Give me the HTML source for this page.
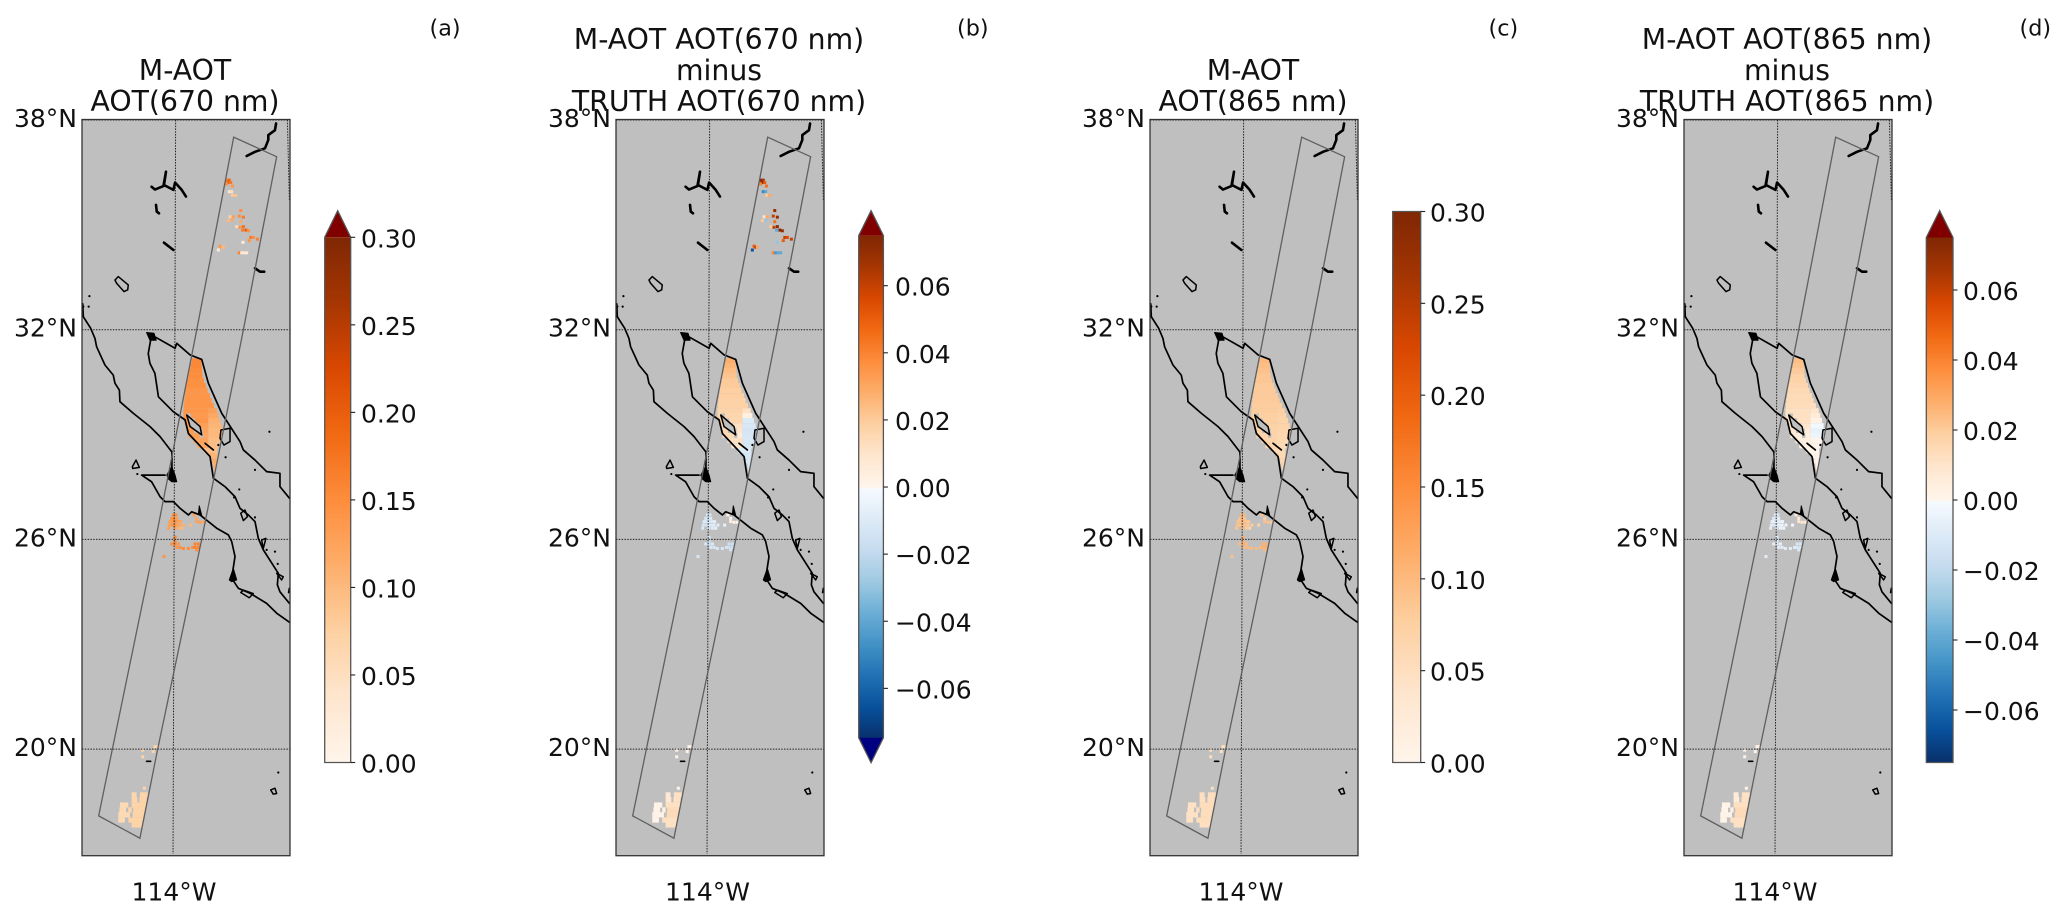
<!DOCTYPE html>
<html lang="en">
<head>
<meta charset="utf-8">
<title>M-AOT retrieval maps</title>
<style>
html,body{margin:0;padding:0;background:#fff;width:2067px;height:919px;overflow:hidden}
svg{display:block;filter:blur(.35px)}
text{font-family:"DejaVu Sans","Liberation Sans",sans-serif;fill:#111}
</style>
</head>
<body>
<svg id="figure" xmlns="http://www.w3.org/2000/svg" width="2067" height="919" viewBox="0 0 2067 919"></svg>
<script>
// ---- axis ticks ----
const latTicks=[38,32,26,20];
const lonTickLabel='114°W';
const panelLetters=['(a)','(b)','(c)','(d)'];
const panelTitles=[['M-AOT','AOT(670 nm)'],['M-AOT AOT(670 nm)','minus','TRUTH AOT(670 nm)'],['M-AOT','AOT(865 nm)'],['M-AOT AOT(865 nm)','minus','TRUTH AOT(865 nm)']];
const aotTicks=[0,0.05,0.10,0.15,0.20,0.25,0.30];
const diffTicks=[-0.06,-0.04,-0.02,0,0.02,0.04,0.06];
// ---- colormap stops ----
const orangesStops=['#fff5eb','#fee6ce','#fdd0a2','#fdae6b','#fd8d3c','#f16913','#d94801','#a63603','#7f2704'];
const bluesStops=['#f7fbff','#deebf7','#c6dbef','#9ecae1','#6baed6','#4292c6','#2171b5','#08519c','#08306b'];
// ---- swath outline (lon, lat) ----
const swathLon=[-110.79,-112.79,-115.01,-117.35,-118.09,-115.86,-114.90,-112.52,-110.27,-108.47];
const swathLat=[37.51,31.99,26.00,20.00,18.09,17.45,20.00,26.00,31.99,36.95];
// ---- coastlines (lon, lat) ----
const coastLines=[
[[-118.95,32.74],[-118.92,32.37],[-118.52,32.04],[-118.29,31.75],[-118.20,31.51],[-117.75,30.99],[-117.30,30.70],[-117.21,30.47],[-116.97,30.27],[-116.94,29.94],[-116.22,29.61],[-115.32,29.23],[-114.77,28.94],[-114.13,28.50],[-114.13,27.99]],
[[-114.50,27.84],[-115.77,27.84],[-115.23,27.65],[-114.77,27.22],[-114.50,27.08],[-114.05,27.08],[-113.69,26.89],[-113.24,26.70],[-113.06,26.79],[-112.61,26.70],[-112.16,26.51],[-111.71,26.32],[-111.08,26.13],[-110.90,25.94],[-110.72,25.51],[-110.90,24.89],[-110.54,24.60],[-109.91,24.46],[-109.01,24.17],[-108.47,23.89],[-107.78,23.63]],
[[-115.23,31.85],[-115.41,31.32],[-115.32,31.04],[-115.05,30.75],[-114.86,30.08],[-114.05,29.65],[-113.42,29.42],[-113.24,29.03],[-112.07,28.37],[-111.89,27.75],[-111.26,27.51],[-110.72,27.22],[-110.45,26.89],[-110.00,26.70],[-109.64,26.51],[-109.46,26.03],[-109.19,25.70],[-108.38,25.03],[-108.43,24.70],[-108.29,24.50],[-107.78,24.17]],
[[-115.23,31.85],[-113.96,31.47],[-113.87,31.61],[-113.15,31.28],[-112.52,31.15],[-112.16,30.47],[-111.44,29.61],[-110.45,28.80],[-110.27,28.56],[-109.64,28.27],[-109.01,27.94],[-108.29,27.89],[-108.29,27.51],[-107.78,27.18]],
[[-112.34,28.75],[-111.89,28.56]],
[[-115.50,19.65],[-115.28,19.65]],
[[-107.78,24.60],[-107.82,24.48]]
];
const riverLines=[
[[-110.09,36.97],[-109.64,37.09],[-109.10,37.19],[-108.92,37.43],[-108.92,37.57],[-108.56,37.71],[-108.50,37.90]],
[[-115.23,36.09],[-115.05,36.01],[-114.59,36.11],[-114.45,36.52],[-114.56,36.14],[-114.05,36.00],[-113.96,36.21],[-113.60,36.00],[-113.37,35.81]],
[[-114.99,35.57],[-114.95,35.38],[-114.83,35.33]],
[[-114.56,34.49],[-114.05,34.28]],
[[-109.64,33.76],[-109.37,33.66],[-109.14,33.66]]
];
const coastLoops=[
[[-113.33,29.56],[-112.61,29.23],[-112.52,28.99],[-113.15,29.23]],
[[-111.48,29.13],[-110.99,29.18],[-110.99,28.80],[-111.32,28.70],[-111.53,28.89]],
[[-117.21,33.42],[-117.03,33.52],[-116.49,33.28],[-116.52,33.14],[-116.72,33.09],[-117.12,33.33]],
[[-116.27,28.08],[-116.07,28.27],[-115.89,28.06],[-116.25,28.03]],
[[-110.41,26.75],[-110.18,26.84],[-110.05,26.65],[-110.27,26.54]],
[[-109.28,25.98],[-109.05,26.03],[-109.19,25.74]],
[[-108.47,25.03],[-108.11,24.93],[-108.20,24.84]],
[[-110.27,24.55],[-109.73,24.45],[-109.95,24.33],[-110.41,24.48]],
[[-108.79,18.83],[-108.56,18.88],[-108.47,18.73],[-108.65,18.71]]
];
const coastBlobs=[
[[-114.41,27.84],[-114.14,28.08],[-113.96,27.84],[-113.87,27.65],[-114.14,27.65],[-114.32,27.73]],
[[-112.70,26.73],[-112.65,26.96],[-112.51,26.67]],
[[-111.03,24.84],[-110.81,25.17],[-110.63,24.84],[-110.90,24.79]],
[[-115.50,31.92],[-115.10,31.90],[-114.98,31.70],[-115.32,31.70]]
];
const islandDotLon=[-118.59,-118.63,-118.92,-108.86,-111.23,-111.62,-116.00,-110.49,-109.64,-110.77,-109.64,-109.01,-108.56,-108.41,-108.38];
const islandDotLat=[32.96,32.66,32.66,29.08,28.35,28.70,27.87,27.43,27.99,27.20,26.63,25.70,25.65,25.30,19.33];
// ---- retrieved AOT pixels: contiguous runs (gulf + southern patch) ----
const rowLat=[31.11,30.97,30.83,30.68,30.54,30.40,30.26,30.11,29.97,29.83,29.68,29.68,29.54,29.54,29.54,29.40,29.40,29.40,29.25,29.25,29.25,29.11,29.11,29.11,28.97,28.97,28.97,28.83,28.83,28.68,28.68,28.54,28.40,28.25,28.11,27.97,18.69,18.69,18.55,18.55,18.40,18.40,18.26,18.26,18.26,18.12,18.12,17.97,17.97,17.83];
const rowLonW=[-113.06,-113.12,-113.19,-113.24,-113.30,-113.35,-113.39,-113.42,-113.46,-113.49,-113.51,-112.16,-113.51,-113.10,-112.16,-113.46,-112.88,-112.16,-113.37,-112.65,-112.16,-113.30,-112.47,-112.16,-113.24,-112.43,-112.16,-112.97,-112.16,-112.76,-112.16,-112.40,-112.11,-111.96,-111.89,-111.84,-116.31,-115.86,-116.31,-115.89,-116.94,-116.31,-116.97,-116.49,-116.22,-117.03,-116.25,-117.03,-116.49,-116.31];
const rowLonE=[-112.56,-112.52,-112.50,-112.47,-112.40,-112.29,-112.20,-112.07,-111.98,-111.86,-112.16,-111.71,-113.30,-112.16,-111.62,-113.24,-112.16,-111.53,-113.19,-112.16,-111.44,-112.94,-112.16,-111.35,-112.61,-112.16,-111.44,-112.16,-111.53,-112.16,-111.62,-111.68,-111.68,-111.71,-111.75,-111.78,-116.04,-115.44,-116.00,-115.50,-116.49,-115.53,-116.61,-116.31,-115.59,-116.40,-115.64,-116.67,-115.68,-115.71];
const rowAot670=[.155,.155,.15,.15,.145,.145,.14,.14,.14,.14,.14,.13,.14,.135,.12,.14,.14,.11,.135,.13,.105,.135,.125,.10,.13,.12,.10,.125,.095,.12,.095,.095,.105,.115,.115,.115,.065,.07,.065,.07,.06,.07,.06,.065,.07,.06,.07,.06,.07,.07];
const rowDiff670=[.028,.026,.024,.022,.02,.02,.019,.019,.018,.018,.017,.012,.017,.016,.003,.018,.016,-.01,.016,.012,-.012,.016,.01,-.013,.015,.006,-.012,.012,-.012,.01,-.012,-.01,-.012,-.012,-.012,-.01,.008,.012,.008,.012,.001,.012,.001,.002,.014,.001,.014,.001,.012,.012];
const rowAot865=[.10,.095,.09,.085,.085,.08,.08,.08,.08,.078,.078,.075,.075,.075,.072,.075,.075,.07,.075,.072,.068,.072,.07,.065,.07,.068,.063,.068,.062,.065,.06,.06,.062,.065,.065,.065,.05,.052,.05,.052,.045,.052,.045,.05,.052,.045,.052,.045,.052,.05];
const rowDiff865=[.024,.022,.02,.018,.017,.016,.015,.014,.014,.013,.012,.01,.012,.012,.006,.012,.012,.002,.012,.01,-.002,.008,.006,-.006,.005,.004,-.004,.003,.0005,.001,.0005,.0005,.0005,.0005,.001,.001,.006,.012,.006,.012,.001,.012,.0005,.003,.014,.001,.014,.001,.012,.012];
// ---- isolated pixels, northern clusters (670 nm only) ----
const northLon=[-111.17,-111.03,-111.10,-110.95,-111.17,-110.86,-111.03,-110.90,-110.86,-110.68,-110.41,-110.81,-110.99,-110.49,-110.27,-111.08,-110.90,-110.41,-110.63,-110.45,-110.27,-110.31,-110.13,-110.00,-109.87,-109.95,-109.73,-109.51,-110.29,-111.53,-111.44,-111.62,-111.35,-110.49,-110.36,-110.22,-110.09];
const northLat=[36.28,36.28,36.21,36.21,36.17,36.11,35.95,35.95,35.85,35.84,35.41,35.23,35.23,35.25,35.22,35.12,35.14,35.09,34.95,34.93,34.95,34.85,34.85,34.83,34.64,34.55,34.64,34.59,34.50,34.39,34.36,34.28,34.36,34.20,34.20,34.20,34.20];
const northAot670=[.17,.19,.20,.17,.15,.14,.04,.05,.08,.09,.15,.13,.07,.15,.17,.10,.12,.12,.06,.14,.18,.17,.20,.15,.17,.14,.15,.16,.02,.14,.12,.03,.10,.16,.03,.03,.03];
const northDiff670=[.072,.065,.075,.05,.04,.045,-.05,-.04,.02,.03,.07,.03,.01,.06,.07,.02,-.03,.045,.02,.06,.072,-.04,.075,.07,.06,.05,.055,.06,-.03,.05,.06,-.065,.03,.04,-.045,-.04,-.04];
// ---- isolated pixels, 26N and 20N clusters (all bands) ----
const southLon=[-114.05,-113.91,-114.14,-114.02,-113.87,-114.23,-114.09,-113.95,-113.80,-113.66,-114.27,-114.13,-113.98,-113.84,-113.69,-113.48,-113.12,-114.31,-113.98,-113.78,-113.60,-112.94,-112.79,-112.79,-112.61,-112.43,-113.96,-113.96,-114.14,-113.96,-113.78,-113.87,-113.69,-113.51,-113.24,-113.01,-112.88,-112.70,-112.88,-112.70,-112.79,-114.56,-115.05,-114.92,-115.14,-115.71,-115.71,-115.62];
const southLat=[26.70,26.70,26.60,26.60,26.60,26.51,26.51,26.51,26.51,26.51,26.41,26.41,26.41,26.41,26.41,26.41,26.41,26.32,26.32,26.32,26.32,26.70,26.60,26.51,26.49,26.49,26.06,25.96,25.87,25.87,25.87,25.77,25.77,25.74,25.74,25.77,25.87,25.87,25.77,25.77,25.70,25.51,20.07,20.07,19.93,19.97,19.78,18.88];
const southAot670=[.15,.15,.14,.15,.13,.13,.14,.15,.13,.12,.13,.14,.15,.13,.12,.11,.10,.13,.13,.11,.10,.13,.12,.13,.13,.12,.16,.16,.15,.16,.14,.14,.15,.15,.15,.15,.16,.16,.16,.16,.15,.14,.07,.07,.07,.07,.07,.07];
const southDiff670=[-.012,-.014,-.012,-.014,-.01,-.01,-.012,-.014,-.01,-.008,-.012,-.014,-.012,-.01,-.008,-.008,-.006,-.012,-.01,-.008,-.006,.002,.001,.003,.002,.001,-.014,-.014,-.012,-.014,-.01,-.012,-.012,-.012,-.012,-.012,-.016,-.016,-.016,-.016,-.014,-.012,.001,.001,.001,.001,.001,.001];
const southAot865=[.10,.10,.09,.10,.09,.09,.09,.10,.09,.08,.09,.09,.10,.09,.08,.08,.07,.09,.09,.08,.07,.09,.08,.09,.09,.08,.11,.11,.10,.11,.10,.10,.10,.10,.10,.10,.11,.11,.11,.11,.10,.09,.05,.05,.05,.05,.05,.05];
const southDiff865=[-.008,-.01,-.008,-.01,-.006,-.006,-.008,-.01,-.006,-.005,-.008,-.01,-.008,-.006,-.004,-.004,-.003,-.008,-.006,-.004,-.003,.008,.006,.01,.008,.006,-.01,-.01,-.008,-.01,-.006,-.008,-.008,-.008,-.008,-.008,-.012,-.012,-.012,-.012,-.01,-.008,.001,.001,.001,.001,.001,.001];

const SVGNS='http://www.w3.org/2000/svg';
const svg=document.getElementById('figure');
// Layout
const panelLeft=[82,616,1150,1684];
const panelW=208, panelTop=119.5, panelBottom=855.7;
const letterX=[429.5,957,1488.5,2019.5];
const titleCx=[185,719,1253,1787];
const lonLabelX=[174,707.5,1241,1775];
const northSeries=[northAot670,northDiff670,null,null];
const southSeries=[southAot670,southDiff670,southAot865,southDiff865];
const rowSeries=[rowAot670,rowDiff670,rowAot865,rowDiff865];
const kinds=['aot','diff','aot','diff'];
const barGeom=[
 {x:324.7,w:26,top:237.3,bottom:762.5,over:210.7,under:null,labelX:361,vMin:0,vMax:.3,ticks:aotTicks,fmt:2},
 {x:858.7,w:24.7,top:235.7,bottom:737.7,over:210.7,under:762.7,labelX:895,vMin:-.0747,vMax:.0749,ticks:diffTicks,fmt:2},
 {x:1392.7,w:28,top:211.5,bottom:762.5,over:null,under:null,labelX:1430,vMin:0,vMax:.3,ticks:aotTicks,fmt:2},
 {x:1926.3,w:26.7,top:237.5,bottom:762.5,over:210.7,under:null,labelX:1963,vMin:-.075,vMax:.075,ticks:diffTicks,fmt:2}
];

function make(tag,attrs,parent,txt){
  const el=document.createElementNS(SVGNS,tag);
  for(const k in attrs) el.setAttribute(k,attrs[k]);
  if(txt!==undefined) el.textContent=txt;
  (parent||svg).appendChild(el);
  return el;
}
function hex2rgb(h){return [parseInt(h.substr(1,2),16),parseInt(h.substr(3,2),16),parseInt(h.substr(5,2),16)];}
function ramp(stops,t){
  t=Math.max(0,Math.min(1,t));
  const f=t*(stops.length-1), i=Math.min(stops.length-2,Math.floor(f)), u=f-i;
  const a=hex2rgb(stops[i]), b=hex2rgb(stops[i+1]);
  return 'rgb('+a.map(function(c,j){return Math.round(c+(b[j]-c)*u);}).join(',')+')';
}
function colorOf(kind,v){
  if(kind==='aot'){ return v>0.3?'#800000':ramp(orangesStops,v/0.3); }
  if(v>0.075) return '#800000';
  if(v<-0.075) return '#000080';
  return v>=0?ramp(orangesStops,v/0.075):ramp(bluesStops,-v/0.075);
}
function xAt(p,lon){return panelLeft[p]+92.33+(lon+114)*18.5;}
function yAt(lat){return 120+(38-lat)*34.95;}
function pathOf(p,pts,close){
  return pts.map(function(q,i){return (i?'L':'M')+xAt(p,q[0]).toFixed(2)+' '+yAt(q[1]).toFixed(2);}).join('')+(close?'Z':'');
}

// Panels
panelLeft.forEach(function(px,p){
  const g=make('g',{});
  
  

  const clip=make('clipPath',{id:'clip'+p},g);
  make('rect',{x:px,y:panelTop,width:panelW,height:panelBottom-panelTop},clip);

  const bg=make('rect',{x:px,y:panelTop,width:panelW,height:panelBottom-panelTop,fill:'#bfbfbf'},g);
  
  

  const inner=make('g',{'clip-path':'url(#clip'+p+')'},g);
  
  

  // pixel runs
  rowLat.forEach(function(lat,i){
    const x0=xAt(p,rowLonW[i]), x1=xAt(p,rowLonE[i]);
    const r=make('rect',{x:x0.toFixed(2),y:(yAt(lat)-2.6).toFixed(2),width:(x1-x0).toFixed(2),height:5.2,fill:colorOf(kinds[p],rowSeries[p][i])},inner);
    
    
  });
  // isolated pixels
  if(northSeries[p]){
    northLon.forEach(function(lon,i){
      const r=make('rect',{x:(xAt(p,lon)-1.5).toFixed(2),y:(yAt(northLat[i])-1.5).toFixed(2),width:3,height:3,fill:colorOf(kinds[p],northSeries[p][i])},inner);
      
      
    });
  }
  southLon.forEach(function(lon,i){
    const r=make('rect',{x:(xAt(p,lon)-1.5).toFixed(2),y:(yAt(southLat[i])-1.5).toFixed(2),width:3,height:3,fill:colorOf(kinds[p],southSeries[p][i])},inner);
    
    
  });

  // graticule
  latTicks.forEach(function(lat){
    const l=make('line',{x1:px,x2:px+panelW,y1:yAt(lat),y2:yAt(lat),stroke:'#222','stroke-width':1,'stroke-dasharray':'1.5 1.3'},inner);
    
    
  });
  const m1=make('line',{x1:xAt(p,-113.93),y1:yAt(38),x2:xAt(p,-114.07),y2:yAt(17),stroke:'#222','stroke-width':1,'stroke-dasharray':'1.5 1.3'},inner);
  
  
  const m2=make('line',{x1:xAt(p,-107.89),y1:yAt(38),x2:xAt(p,-107.78),y2:yAt(35.7),stroke:'#222','stroke-width':1,'stroke-dasharray':'1.5 1.3'},inner);
  
  

  // coastlines
  coastLines.forEach(function(pts){
    const c=make('path',{d:pathOf(p,pts,false),fill:'none',stroke:'#000','stroke-width':1.7,'stroke-linejoin':'round','stroke-linecap':'round'},inner);
    
    
  });
  riverLines.forEach(function(pts){
    const c=make('path',{d:pathOf(p,pts,false),fill:'none',stroke:'#000','stroke-width':2.6,'stroke-linejoin':'round','stroke-linecap':'round'},inner);
    
    
  });
  coastLoops.forEach(function(pts){
    const c=make('path',{d:pathOf(p,pts,true),fill:'none',stroke:'#000','stroke-width':1.5,'stroke-linejoin':'round'},inner);
    
    
  });
  coastBlobs.forEach(function(pts){
    const c=make('path',{d:pathOf(p,pts,true),fill:'#000',stroke:'#000','stroke-width':1,'stroke-linejoin':'round'},inner);
    
    
  });
  islandDotLon.forEach(function(lon,i){
    const c=make('circle',{cx:xAt(p,lon),cy:yAt(islandDotLat[i]),r:1.1,fill:'#000'},inner);
    
    
  });

  // swath
  const swathPts=swathLon.map(function(lon,i){return [lon,swathLat[i]];});
  const sw=make('path',{d:pathOf(p,swathPts,true),fill:'none',stroke:'#5f5f5f','stroke-width':1.3,'stroke-linejoin':'miter'},inner);
  
  

  // frame
  const fr=make('rect',{x:px,y:panelTop,width:panelW,height:panelBottom-panelTop,fill:'none',stroke:'#333','stroke-width':1.3},g);
  
  

  // lat labels
  latTicks.forEach(function(lat){
    const t=make('text',{x:px-5,y:yAt(lat)+7,'text-anchor':'end','font-size':25},g,lat+'°N');
    
    
  });
  const lt=make('text',{x:lonLabelX[p],y:900.7,'text-anchor':'middle','font-size':25},g,lonTickLabel);
  
  

  // titles
  const lines=panelTitles[p];
  lines.forEach(function(line,i){
    const base=111-(lines.length-1-i)*31;
    const t=make('text',{x:titleCx[p],y:base,'text-anchor':'middle','font-size':28.3},g,line);
    
    
  });
  const let1=make('text',{x:letterX[p],y:35.5,'font-size':22.3},g,panelLetters[p]);
  
  

  // colorbar
  const b=barGeom[p];
  const cb=make('g',{},g);
  
  
  const vY=function(v){return b.bottom-(v-b.vMin)/(b.vMax-b.vMin)*(b.bottom-b.top);};
  const steps=Math.round((b.bottom-b.top)/2);
  for(let s=0;s<steps;s++){
    const y0=b.top+(b.bottom-b.top)*s/steps;
    const v=b.vMax-(b.vMax-b.vMin)*(s+.5)/steps;
    const band=make('rect',{x:b.x,y:y0.toFixed(2),width:b.w,height:((b.bottom-b.top)/steps+.4).toFixed(2),fill:colorOf(kinds[p],v)},cb);
    
    
  }
  let outline='M'+b.x+' '+b.top;
  if(b.over!==null) outline+='L'+(b.x+b.w/2)+' '+b.over;
  outline+='L'+(b.x+b.w)+' '+b.top+'L'+(b.x+b.w)+' '+b.bottom;
  if(b.under!==null) outline+='L'+(b.x+b.w/2)+' '+b.under;
  outline+='L'+b.x+' '+b.bottom+'Z';
  if(b.over!==null){
    const tri=make('path',{d:'M'+b.x+' '+b.top+'L'+(b.x+b.w/2)+' '+b.over+'L'+(b.x+b.w)+' '+b.top+'Z',fill:'#800000'},cb);
    
    
  }
  if(b.under!==null){
    const tri=make('path',{d:'M'+b.x+' '+b.bottom+'L'+(b.x+b.w/2)+' '+b.under+'L'+(b.x+b.w)+' '+b.bottom+'Z',fill:'#000080'},cb);
    
    
  }
  const ol=make('path',{d:outline,fill:'none',stroke:'#555','stroke-width':1.3},cb);
  
  
  b.ticks.forEach(function(v){
    const y=vY(v);
    const tk=make('line',{x1:b.x+b.w,x2:b.x+b.w+4.5,y1:y,y2:y,stroke:'#222','stroke-width':1.1},cb);
    
    
    const label=(v<0?'\u2212':'')+Math.abs(v).toFixed(b.fmt);
    const tx=make('text',{x:b.labelX,y:y+10,'font-size':25},cb,label);
    
    
  });
});
</script>
</body>
</html>
